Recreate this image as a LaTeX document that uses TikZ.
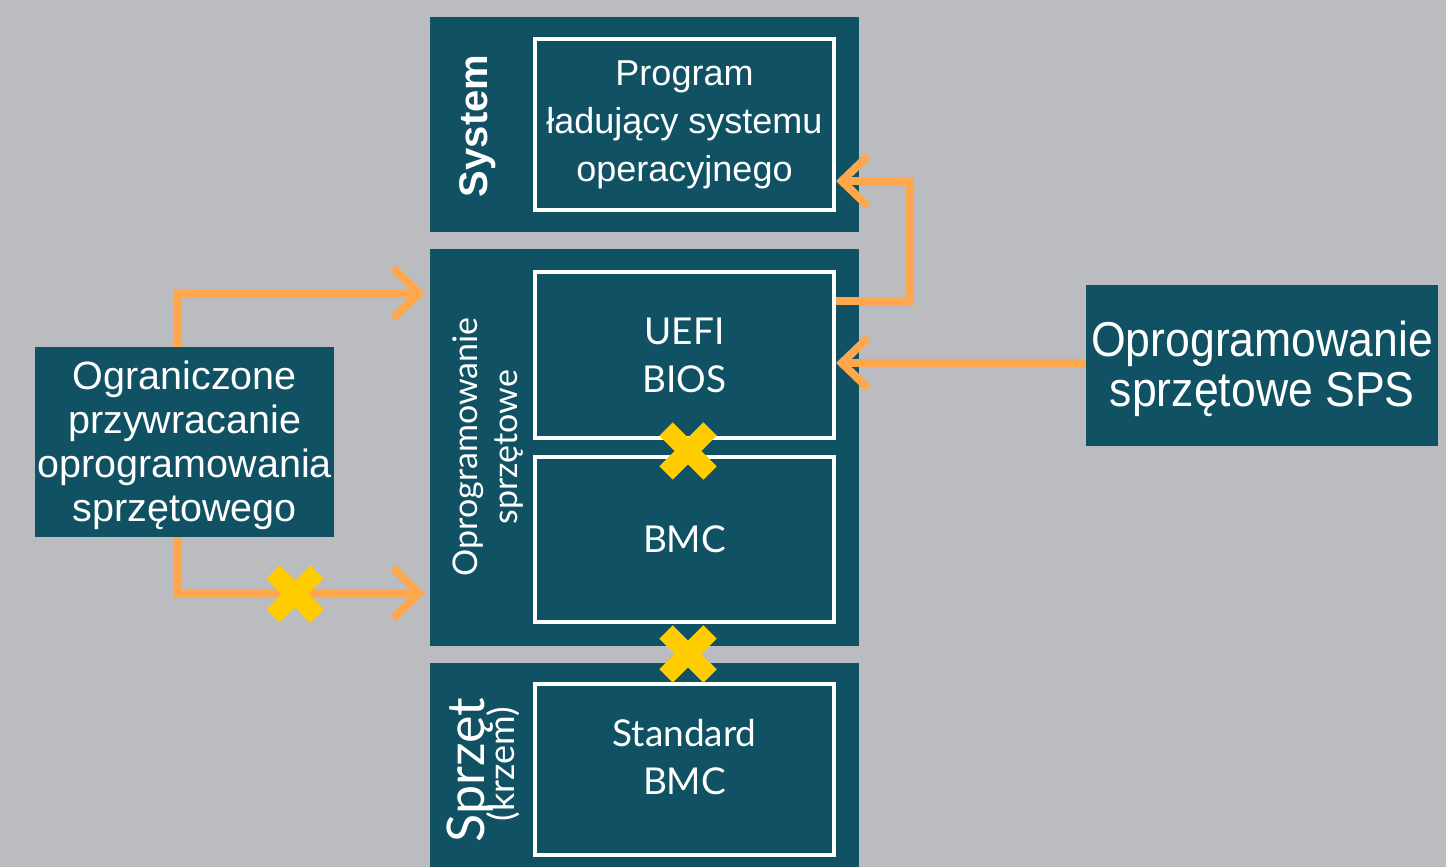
\documentclass[tikz,border=0pt]{standalone}
\usepackage{fontspec}
\setmainfont{Liberation Sans}
\newfontfamily\spsfont[FakeStretch=0.91]{Liberation Sans}
\newfontfamily\hpefont{Lato}
\usetikzlibrary{arrows.meta}
\definecolor{bg}{RGB}{187,188,192}
\definecolor{teal}{RGB}{16,82,99}
\definecolor{orng}{RGB}{255,167,77}
\definecolor{yel}{RGB}{255,204,0}
\tikzset{
  panel/.style={fill=teal, draw=none, anchor=north west, inner sep=0pt},
  inbox/.style={draw=white, line width=4pt, fill=teal, inner sep=0pt, text=white, align=center},
  darkbox/.style={fill=teal, draw=none, text=white, align=center, inner sep=0pt, anchor=north west},
  conn/.style={draw=orng, line width=8pt, -{Straight Barb[length=26pt,width=50pt]}},
  cross/.style={draw=yel, line width=19pt, line cap=butt},
  lbl/.style={text=white, align=center, inner sep=0pt},
}
\begin{document}
\begin{tikzpicture}[x=1pt,y=-1pt]
\fill[bg] (0,0) rectangle (1446,867);
\useasboundingbox (0,0) rectangle (1446,867);

% layer panels
\node[panel, minimum width=429, minimum height=215] (sys) at (430,17) {};
\node[panel, minimum width=429, minimum height=397] (fw) at (430,249) {};
\node[panel, minimum width=429, minimum height=210] (hw) at (430,663) {};

% inner boxes
\node[inbox, minimum width=299, minimum height=171, font=\fontsize{36}{48}\selectfont] (osl) at (684.5,124.5)
  {Program\\ładujący systemu\\operacyjnego};
\node[inbox, minimum width=299, minimum height=166, font=\hpefont\fontsize{37}{48}\selectfont] (uefi) at (684.5,355)
  {UEFI\\BIOS};
\node[inbox, minimum width=299, minimum height=165, font=\hpefont\fontsize{37}{47}\selectfont] (bmc) at (684.5,539.5)
  {BMC};
\node[inbox, minimum width=299, minimum height=171] (sbmc) at (684.5,769.5) {};
\node[lbl, font=\hpefont\fontsize{37}{48}\selectfont] (sbmct) at ([yshift=12pt]sbmc.center)
  {Standard\\BMC};

% layer titles
\node[lbl, rotate=90, font=\bfseries\fontsize{40}{44}\selectfont] (tsys) at (478,126) {System};
\node[lbl, rotate=90, font=\hpefont\fontsize{34}{40}\selectfont] (tfw) at (488,447) {Oprogramowanie\\sprzętowe};
\node[lbl, rotate=90, font=\hpefont\fontsize{52}{52}\selectfont] (thw) at (470,770) {Sprzęt};
\node[lbl, rotate=90, font=\hpefont\fontsize{36}{36}\selectfont] (thw2) at (503,764) {(krzem)};

% side boxes
\node[darkbox, minimum width=299, minimum height=190] (lim) at (35,347) {};
\node[lbl, font=\fontsize{39.5}{44}\selectfont] (limt) at ([yshift=-3pt]lim.center)
  {Ograniczone\\przywracanie\\oprogramowania\\sprzętowego};
\node[darkbox, minimum width=352, minimum height=161] (sps) at (1086,285) {};
\node[lbl, font=\spsfont\fontsize{49}{50}\selectfont] (spst) at ([yshift=-3pt]sps.center)
  {Oprogramowanie\\sprzętowe SPS};

% connectors
\coordinate (fwin1) at (425,293);
\coordinate (fwin2) at (425,593);
\draw[conn] ([xshift=-6.5pt]lim.north) |- (fwin1);
\draw[conn] ([xshift=-6.5pt]lim.south) |- (fwin2);
\draw[conn] (uefi.east |- 0,301) -- (910,301) |- (osl.east |- 0,181);
\draw[conn] (sps.west |- 0,363) -- (uefi.east |- 0,363);

% blocked paths
\foreach \p in {(688,451),(688,654),(295,594)}
  \draw[cross] \p ++(-22,-22) -- ++(44,44) \p ++(-22,22) -- ++(44,-44);
\end{tikzpicture}
\end{document}
